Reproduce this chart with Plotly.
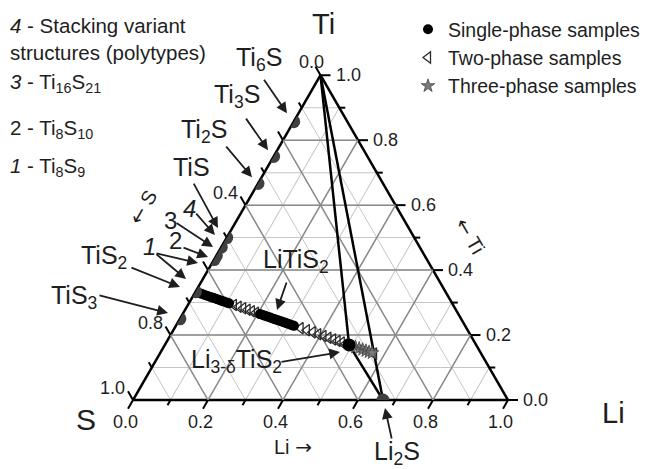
import numpy as np
import plotly.graph_objects as go

W, H = 648, 469
FONT = "Liberation Sans, Arial, sans-serif"
INK = "#1e1e1e"

# ---------------- data ----------------
# Ti-S binary phases on the Ti-S edge (atomic fraction of Ti)
edge_names = ["Ti6S", "Ti3S", "Ti2S", "TiS", "Ti8S9", "Ti8S10", "Ti16S21", "TiS2", "TiS3"]
edge_ti = [6/7, 3/4, 2/3, 1/2, 8/17, 8/18, 16/37, 1/3, 1/4]

# Li2S on the S-Li edge: (Ti, S, Li)
li2s_comp = (0.0, 1/3, 2/3)

# Li_x TiS2 samples (x = Li per formula unit)
single_x = [0.00, 0.03, 0.06, 0.09, 0.12, 0.15, 0.18, 0.21, 0.24, 0.27, 0.30, 0.33, 0.36,
            0.78, 0.82, 0.86, 0.90, 0.94, 0.98, 1.02, 1.06, 1.10, 1.14, 1.18, 1.22, 1.26,
            1.30, 1.34, 1.38]
li3_x = [2.90]                       # Li(3-d)TiS2
two_x = [0.42, 0.48, 0.54, 0.60, 0.66, 0.72,
         1.52, 1.66, 1.80, 1.94, 2.08, 2.22, 2.36, 2.50, 2.64, 2.78, 4.00]
three_x = [3.15, 3.30, 3.45, 3.60, 3.75, 3.90]

grid_major = [0.2, 0.4, 0.6, 0.8]
tick_vals = [0.0, 0.1, 0.2, 0.3, 0.4, 0.5, 0.6, 0.7, 0.8, 0.9, 1.0]
bottom_labels = [0.0, 0.2, 0.4, 0.6, 0.8, 1.0]   # Li
right_labels = [0.0, 0.2, 0.4, 0.6, 0.8, 1.0]    # Ti
left_labels = [0.0, 0.4, 0.8, 1.0]               # S


def lixtis2(x):
    n = 3.0 + x
    return (1.0 / n, 2.0 / n, x / n)


phases = {
    "Ti": (1.0, 0.0, 0.0),
    "Li2S": li2s_comp,
    "Li3TiS2": lixtis2(li3_x[0]),
    "LiTiS2": lixtis2(1.0),
}
for nm, t in zip(edge_names, edge_ti):
    phases[nm] = (t, 1.0 - t, 0.0)

tie_lines = [("Ti", "Li2S"), ("Ti", "Li3TiS2"), ("Li3TiS2", "Li2S")]

# ---------------- layout geometry ----------------
TRI_LEFT, TRI_BOTTOM, SIDE = 133.0, 400.0, 375.0
TRI_H = SIDE * np.sqrt(3) / 2
R3 = np.sqrt(3) / 2


def xy(c):
    ti, s, li = c
    return li + ti / 2.0, ti * R3


def comps(xs):
    cs = [lixtis2(x) for x in xs]
    return [c[0] for c in cs], [c[1] for c in cs], [c[2] for c in cs]


fig = go.Figure()

# major grid lines (darker) on the ternary
ga, gb, gc = [], [], []
for v in grid_major:
    for p, q in [((v, 1 - v, 0), (v, 0, 1 - v)),
                 ((1 - v, v, 0), (0, v, 1 - v)),
                 ((1 - v, 0, v), (0, 1 - v, v))]:
        ga += [p[0], q[0], None]
        gb += [p[1], q[1], None]
        gc += [p[2], q[2], None]
fig.add_trace(go.Scatterternary(a=ga, b=gb, c=gc, mode="lines",
                                line=dict(color="#8a8a8a", width=1.5),
                                hoverinfo="skip", showlegend=False))

# tie lines
ta, tb, tc = [], [], []
for p, q in tie_lines:
    ta += [phases[p][0], phases[q][0], None]
    tb += [phases[p][1], phases[q][1], None]
    tc += [phases[p][2], phases[q][2], None]
fig.add_trace(go.Scatterternary(a=ta, b=tb, c=tc, mode="lines",
                                line=dict(color="black", width=2.5),
                                hoverinfo="skip", showlegend=False))

# two-phase samples
a, b, c = comps(two_x)
fig.add_trace(go.Scatterternary(a=a, b=b, c=c, mode="markers", name="Two-phase samples",
                                marker=dict(symbol="triangle-left-open", size=10, color="#2a2a2a",
                                            line=dict(width=1.3)),
                                legendrank=2, hoverinfo="skip"))
# three-phase samples
a, b, c = comps(three_x)
fig.add_trace(go.Scatterternary(a=a, b=b, c=c, mode="markers", name="Three-phase samples",
                                marker=dict(symbol="star", size=10, color="#7a7a7a",
                                            line=dict(color="#444444", width=0.8)),
                                legendrank=3, hoverinfo="skip"))
# single-phase samples
a, b, c = comps(single_x)
fig.add_trace(go.Scatterternary(a=a, b=b, c=c, mode="markers", name="Single-phase samples",
                                marker=dict(symbol="circle", size=10, color="black"),
                                legendrank=1, hoverinfo="skip"))
a, b, c = comps(li3_x)
fig.add_trace(go.Scatterternary(a=a, b=b, c=c, mode="markers", showlegend=False,
                                marker=dict(symbol="circle", size=13, color="black"),
                                hoverinfo="skip"))
# binary phases (edge dots)
bin_pts = [phases[n] for n in edge_names] + [li2s_comp]
fig.add_trace(go.Scatterternary(a=[p[0] for p in bin_pts], b=[p[1] for p in bin_pts],
                                c=[p[2] for p in bin_pts], mode="markers", showlegend=False,
                                marker=dict(symbol="circle", size=13, color="#404040"),
                                hoverinfo="skip"))

# ---------------- tick marks (overlay cartesian axes) ----------------
PX = 1.0 / SIDE  # data units per pixel
tx, ty = [], []
for i, v in enumerate(tick_vals):
    L = (10 if i % 2 == 0 else 6) * PX
    # right edge (Ti), horizontal ticks
    x0, y0 = xy((v, 0, 1 - v))
    tx += [x0, x0 + L, None]; ty += [y0, y0, None]
    # left edge (S), ticks up-left
    x0, y0 = xy((1 - v, v, 0))
    tx += [x0, x0 - 0.5 * L, None]; ty += [y0, y0 + R3 * L, None]
    # bottom edge (Li), ticks down-left
    x0, y0 = xy((0, 1 - v, v))
    tx += [x0, x0 - 0.5 * L, None]; ty += [y0, y0 - R3 * L, None]
fig.add_trace(go.Scatter(x=tx, y=ty, mode="lines", line=dict(color="black", width=2),
                         hoverinfo="skip", showlegend=False, xaxis="x", yaxis="y"))

ann = []


def tick_ann(x, y, text, xanchor, yanchor, xs, ys):
    ann.append(dict(x=x, y=y, xref="x", yref="y", text=text, showarrow=False,
                    xanchor=xanchor, yanchor=yanchor, xshift=xs, yshift=ys,
                    font=dict(size=18, color=INK, family=FONT)))


for v in right_labels:
    x0, y0 = xy((v, 0, 1 - v))
    tick_ann(x0, y0, f"{v:.1f}", "left", "middle", 13, 0)
for v in bottom_labels:
    x0, y0 = xy((0, 1 - v, v))
    tick_ann(x0, y0, f"{v:.1f}", "center", "top", -7.5, -10)
for v in left_labels:
    x0, y0 = xy((1 - v, v, 0))
    if v == 0.0:
        tick_ann(x0, y0, f"{v:.1f}", "center", "middle", -9, 13)
    else:
        tick_ann(x0, y0, f"{v:.1f}", "right", "middle", -6, 12)

# ---------------- arrows ----------------
# (target phase, head offset from target [px, screen], tail offset from head [px])
arrows = [
    ("Ti6S", (-6.7, -8.4), (-24, -35)),
    ("Ti3S", (-5.6, -6.3), (-23, -33)),
    ("Ti2S", (-6.0, -6.3), (-27, -32)),
    ("TiS", (-8.8, -9.5), (-25, -46)),
    ("TiS", (-11.8, -2.5), (-20, -23)),
    ("Ti8S10", (-3.3, -8.6), (-38, -25)),
    ("Ti8S10", (-8.3, 1.4), (-26, -10)),
    ("TiS2", (2.5, -28.7), (-43, -10)),
    ("TiS2", (-9.5, -12.7), (-31, -26)),
    ("TiS2", (-15.5, -4.7), (-50, -20)),
    ("TiS3", (-11.9, -5.8), (-70, -18)),
    ("LiTiS2", (3.4, -8.8), (10, -29)),
    ("Li3TiS2", (-9.1, 7.1), (-60, 10)),
    ("Li2S", (2.0, 8.0), (7, 32)),
]
for nm, (hx, hy), (axp, ayp) in arrows:
    X, Y = xy(phases[nm])
    ann.append(dict(x=X, y=Y, xref="x", yref="y", xshift=hx, yshift=-hy,
                    ax=axp, ay=ayp, axref="pixel", ayref="pixel", text="",
                    showarrow=True, arrowhead=2, arrowsize=1.2, arrowwidth=1.8,
                    arrowcolor=INK, standoff=0, startstandoff=0))

# ---------------- text labels (screen px placement) ----------------
def label(text, px, py, size, xanchor="left", angle=0):
    ann.append(dict(x=px / W, y=1 - py / H, xref="paper", yref="paper", text=text,
                    showarrow=False, xanchor=xanchor, yanchor="middle", textangle=angle,
                    font=dict(size=size, color=INK, family=FONT)))


ARW = '<span style="font-family:DejaVu Sans">%s</span>'

label("Ti<sub>6</sub>S", 234, 59, 25)
label("Ti<sub>3</sub>S", 212, 96, 25)
label("Ti<sub>2</sub>S", 179, 131, 25)
label("TiS", 171, 167, 25)
label("<i>4</i>", 181, 208, 24)
label("3", 162, 220, 24)
label("2", 167, 240, 24)
label("<i>1</i>", 141, 247, 24)
label("TiS<sub>2</sub>", 79, 257, 25)
label("TiS<sub>3</sub>", 49, 297, 25)
label("LiTiS<sub>2</sub>", 261, 261, 25)
label("Li<sub>3-δ</sub>TiS<sub>2</sub>", 189, 361, 25)
label("Li<sub>2</sub>S", 372, 453, 25)

label("<i>4</i> - Stacking variant", 8, 25, 20.5)
label("structures (polytypes)", 8, 53, 20.5)
label("<i>3</i> - Ti<sub>16</sub>S<sub>21</sub>", 8, 83, 20.5)
label("2 - Ti<sub>8</sub>S<sub>10</sub>", 8, 129, 20.5)
label("<i>1</i> - Ti<sub>8</sub>S<sub>9</sub>", 8, 167, 20.5)

label("Ti", 323, 24, 29, "center")
label("S", 86, 419, 30, "center")
label("Li", 613, 413, 29, "center")
label(ARW % "←" + " S", 143, 207, 20, "center", -60)
label(ARW % "←" + " Ti", 470, 236, 20, "center", 60)
label("Li " + ARW % "→", 293, 447, 20, "center")

tern_axis = dict(showgrid=True, gridcolor="#c6c6c6", gridwidth=1.2, dtick=0.1, tick0=0,
                 showticklabels=False, ticks="", linecolor="black", linewidth=2.5,
                 layer="below traces", title=dict(text=""))

fig.update_layout(
    width=W, height=H, margin=dict(l=0, r=0, t=0, b=0, autoexpand=False),
    paper_bgcolor="white", plot_bgcolor="rgba(0,0,0,0)",
    font=dict(family=FONT, color=INK),
    ternary=dict(
        domain=dict(x=[TRI_LEFT / W, (TRI_LEFT + SIDE) / W],
                    y=[(H - TRI_BOTTOM) / H, (H - TRI_BOTTOM + TRI_H) / H]),
        bgcolor="white", sum=1,
        aaxis=tern_axis, baxis=tern_axis, caxis=tern_axis,
    ),
    xaxis=dict(domain=[0, 1], range=[-TRI_LEFT / SIDE, (W - TRI_LEFT) / SIDE],
               visible=False, fixedrange=True),
    yaxis=dict(domain=[0, 1], range=[-(H - TRI_BOTTOM) / SIDE, TRI_BOTTOM / SIDE],
               visible=False, fixedrange=True),
    legend=dict(x=408 / W, y=1 - 10 / H, xanchor="left", yanchor="top",
                font=dict(size=19.5, family=FONT, color=INK), bgcolor="rgba(0,0,0,0)",
                tracegroupgap=0, itemwidth=30),
    annotations=ann,
    showlegend=True,
)

fig.write_html("out.html")
